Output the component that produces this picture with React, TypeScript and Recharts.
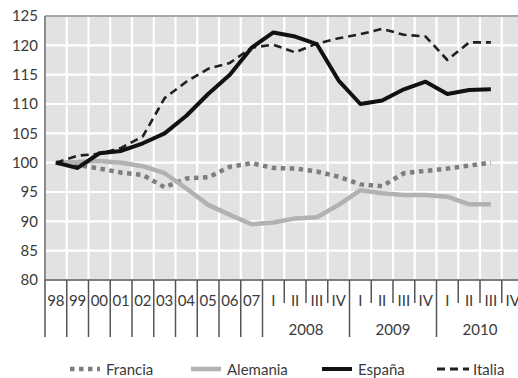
import React from 'react';
import { LineChart, Line, XAxis, YAxis, CartesianGrid, ReferenceLine, Legend } from 'recharts';

const categories = ['98', '99', '00', '01', '02', '03', '04', '05', '06', '07', 'I', 'II', 'III', 'IV', 'I', 'II', 'III', 'IV', 'I', 'II', 'III', 'IV'];
const yearLabels = ['2008', '2009', '2010'];
const yearStartIndex = [10, 14, 18];
const francia = [100, 99.6, 99.0, 98.3, 97.9, 95.8, 97.3, 97.5, 99.3, 99.9, 99.1, 99.0, 98.5, 97.6, 96.3, 96.0, 98.2, 98.6, 99.0, 99.5, 100.0, null];
const alemania = [100, 100.1, 100.3, 100.0, 99.4, 98.2, 95.6, 92.8, 91.1, 89.5, 89.8, 90.5, 90.7, 92.8, 95.3, 94.8, 94.5, 94.5, 94.2, 92.9, 92.9, null];
const espana = [100, 99.1, 101.6, 102.0, 103.3, 105.0, 108.0, 111.7, 115.0, 119.6, 122.2, 121.5, 120.2, 114.0, 110.0, 110.6, 112.5, 113.8, 111.7, 112.4, 112.5, null];
const italia = [100, 101.2, 101.5, 102.5, 104.5, 111.0, 113.8, 116.0, 117.0, 119.6, 120.1, 118.8, 120.3, 121.2, 121.9, 122.8, 121.8, 121.5, 117.5, 120.5, 120.5, null];
const yTicks = [80, 85, 90, 95, 100, 105, 110, 115, 120, 125];

const FONT = 'Lato, "Open Sans", sans-serif';
const FS = 15;
const TEXT = '#3a3a3a';
const CHART_W = 524;
const CHART_H = 378;
const Y_W = 45;
const M_RIGHT = 0.5;
const PLOT_W = CHART_W - Y_W - M_RIGHT;
const BAND = PLOT_W / categories.length;

const data = categories.map((c, i) => ({
  x: i + 0.5,
  cat: c,
  Francia: francia[i],
  Alemania: alemania[i],
  'España': espana[i],
  Italia: italia[i],
}));
const xTicks = Array.from({ length: categories.length + 1 }, (_, i) => i);

const series = [
  { key: 'Francia', color: '#7e7e7e', width: 4.5, dash: '4.5 4.5' },
  { key: 'Alemania', color: '#b2b2b2', width: 4.5, dash: undefined },
  { key: 'Italia', color: '#202020', width: 2.6, dash: '8 5' },
  { key: 'España', color: '#111111', width: 4, dash: undefined },
];
const legendOrder = ['Francia', 'Alemania', 'España', 'Italia'];
const legendLeft = [70, 191, 322, 437];

function XTick(props: any) {
  const { x, y, payload } = props;
  const k = payload.value as number;
  const isLong = k <= 10 || yearStartIndex.includes(k) || k === categories.length;
  const len = isLong ? 57 : 23;
  const yi = yearStartIndex.indexOf(k - 1);
  return (
    <g>
      <line x1={x} y1={y} x2={x} y2={y + len} stroke="#555" strokeWidth={1.5} />
      {k < categories.length && (
        <text x={x + BAND / 2} y={y + 25.5} textAnchor="middle" fontFamily={FONT} fontSize={FS} fill={TEXT}>
          {categories[k]}
        </text>
      )}
      {yi >= 0 && (
        <text x={x + BAND} y={y + 54.5} textAnchor="middle" fontFamily={FONT} fontSize={FS} fill={TEXT}>
          {yearLabels[yi]}
        </text>
      )}
    </g>
  );
}

function LegendContent() {
  return (
    <div style={{ position: 'relative', width: 518, height: 18, fontFamily: FONT, fontSize: FS, color: TEXT }}>
      {legendOrder.map((name, i) => {
        const s = series.find((q) => q.key === name)!;
        return (
          <div key={name} style={{ position: 'absolute', left: legendLeft[i], top: 0, height: 18, display: 'flex', alignItems: 'center' }}>
            <svg width={32} height={10} style={{ display: 'block' }}>
              <line x1={0} y1={5} x2={name === 'Italia' ? 34 : 30} y2={5} stroke={s.color} strokeWidth={name === 'Italia' ? 3 : s.width} strokeDasharray={s.dash} />
            </svg>
            <span style={{ marginLeft: 4, lineHeight: '18px' }}>{name}</span>
          </div>
        );
      })}
    </div>
  );
}

export default function App() {
  return (
    <div style={{ position: 'absolute', left: 0, top: 0, width: 518, height: 378, overflow: 'hidden', background: '#fff' }}>
      <LineChart width={CHART_W} height={CHART_H} data={data} margin={{ top: 16, right: M_RIGHT, bottom: 0, left: 0 }}>
        <CartesianGrid fill="#e2e2e2" stroke="#ffffff" strokeWidth={2.2} vertical horizontal />
        <XAxis
          dataKey="x"
          type="number"
          domain={[0, categories.length]}
          ticks={xTicks}
          interval={0}
          height={98}
          tickSize={0}
          tickMargin={0}
          tickLine={false}
          axisLine={{ stroke: '#555', strokeWidth: 1.5 }}
          tick={<XTick />}
          allowDataOverflow
        />
        <YAxis
          type="number"
          domain={[80, 125]}
          ticks={yTicks}
          interval={0}
          width={Y_W}
          tickSize={0}
          tickMargin={7}
          tickLine={false}
          axisLine={{ stroke: '#666', strokeWidth: 1.5 }}
          tick={{ fontFamily: FONT, fontSize: FS, fill: TEXT }}
          allowDataOverflow
        />
        <ReferenceLine y={125} stroke="#8a8a8a" strokeWidth={1.5} />
        {series.map((s) => (
          <Line
            key={s.key}
            dataKey={s.key}
            type="linear"
            stroke={s.color}
            strokeWidth={s.width}
            strokeDasharray={s.dash}
            dot={false}
            activeDot={false}
            isAnimationActive={false}
            strokeLinejoin="round"
          />
        ))}
        <Legend
          layout="horizontal"
          verticalAlign="middle"
          align="center"
          content={<LegendContent />}
          wrapperStyle={{ top: 360, left: 0, width: 518 }}
        />
      </LineChart>
    </div>
  );
}
